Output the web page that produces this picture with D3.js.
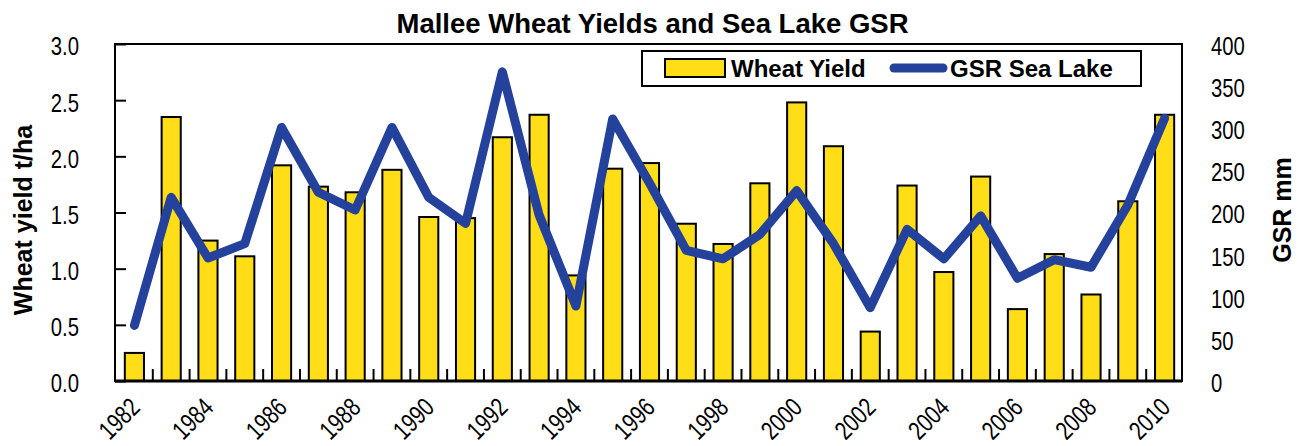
<!DOCTYPE html>
<html>
<head>
<meta charset="utf-8">
<script src="https://cdn.jsdelivr.net/npm/d3@7"></script>
<style>
    body { margin: 0; background: #fff; }
</style>
</head>
<body>
<svg id="chart"></svg>
<script>
const years = [1982, 1983, 1984, 1985, 1986, 1987, 1988, 1989, 1990, 1991, 1992, 1993, 1994, 1995, 1996,
    1997, 1998, 1999, 2000, 2001, 2002, 2003, 2004, 2005, 2006, 2007, 2008, 2009, 2010];
const wheatYield = [0.25, 2.35, 1.25, 1.11, 1.92, 1.73, 1.68, 1.88, 1.46, 1.45, 2.17, 2.37, 0.94, 1.89, 1.94,
    1.40, 1.22, 1.76, 2.48, 2.09, 0.44, 1.74, 0.97, 1.82, 0.64, 1.13, 0.77, 1.60, 2.37];
const gsrSeaLake = [66, 218, 146, 163, 301, 224, 203, 301, 218, 187, 367, 197, 89, 311, 235,
    155, 145, 174, 226, 163, 87, 180, 145, 196, 122, 144, 135, 209, 312];
const yieldTicks = [0, 0.5, 1, 1.5, 2, 2.5, 3];
const gsrTicks = [0, 50, 100, 150, 200, 250, 300, 350, 400];
const yearLabels = years.filter(y => y % 2 === 0);

const width = 1307;
const height = 446;
const plot = { left: 115, right: 1182, top: 44, bottom: 381 };
const yellow = '#FFDD17';
const blue = '#24419B';
const boldFont = "'Liberation Sans', Arial, sans-serif";
const squeeze = 0.78;   // narrow look of the tick labels

const svg = d3.select('#chart')
    .attr('width', width)
    .attr('height', height);

const x = d3.scaleBand()
    .domain(years)
    .range([plot.left + 1, plot.right + 1])
    .paddingInner(0.48)
    .paddingOuter(0.24);

const yLeft = d3.scaleLinear()
    .domain([0, 3])
    .range([plot.bottom, plot.top]);

const yRight = d3.scaleLinear()
    .domain([0, 400])
    .range([plot.bottom, plot.top]);

// frame
svg.append('rect')
    .attr('x', plot.left)
    .attr('y', plot.top)
    .attr('width', plot.right - plot.left)
    .attr('height', plot.bottom - plot.top)
    .attr('fill', 'none')
    .attr('stroke', '#000')
    .attr('stroke-width', 2);

// bars
svg.append('g')
    .selectAll('rect')
    .data(years)
    .enter()
    .append('rect')
    .attr('x', d => x(d))
    .attr('y', (d, i) => yLeft(wheatYield[i]))
    .attr('width', x.bandwidth())
    .attr('height', (d, i) => yLeft(0) - yLeft(wheatYield[i]))
    .attr('fill', yellow)
    .attr('stroke', '#000')
    .attr('stroke-width', 2);

// category ticks between bars
const step = x.step();
const x0 = x.range()[0];
svg.append('g')
    .selectAll('line')
    .data(years.slice(1))
    .enter()
    .append('line')
    .attr('x1', (d, i) => x0 + (i + 1) * step)
    .attr('x2', (d, i) => x0 + (i + 1) * step)
    .attr('y1', plot.bottom)
    .attr('y2', plot.bottom - 12)
    .attr('stroke', '#000')
    .attr('stroke-width', 2);

// bottom axis line
svg.append('line')
    .attr('x1', plot.left)
    .attr('x2', plot.right)
    .attr('y1', plot.bottom)
    .attr('y2', plot.bottom)
    .attr('stroke', '#000')
    .attr('stroke-width', 3);

// GSR line
const line = d3.line()
    .x((d, i) => x(years[i]) + x.bandwidth() / 2)
    .y(d => yRight(d));

svg.append('path')
    .datum(gsrSeaLake)
    .attr('d', line)
    .attr('fill', 'none')
    .attr('stroke', blue)
    .attr('stroke-width', 9)
    .attr('stroke-linejoin', 'round')
    .attr('stroke-linecap', 'round');

// left axis
const yAxisLeft = d3.axisLeft(yLeft)
    .tickValues(yieldTicks)
    .tickFormat(d3.format('.1f'))
    .tickSizeInner(-11)
    .tickSizeOuter(0)
    .tickPadding(36);

const leftGroup = svg.append('g')
    .attr('transform', `translate(${plot.left}, 0)`)
    .call(yAxisLeft);
leftGroup.select('.domain').remove();
leftGroup.selectAll('line').attr('stroke-width', 2);
leftGroup.selectAll('text')
    .attr('x', -36 / squeeze)
    .attr('transform', `scale(${squeeze}, 1)`)
    .style('font-family', boldFont)
    .style('font-size', '26px')
    .attr('fill', '#000')
    .attr('dy', '0.42em');

// right axis
const yAxisRight = d3.axisRight(yRight)
    .tickValues(gsrTicks)
    .tickSize(0)
    .tickPadding(29);

const rightGroup = svg.append('g')
    .attr('transform', `translate(${plot.right}, 0)`)
    .call(yAxisRight);
rightGroup.select('.domain').remove();
rightGroup.selectAll('text')
    .attr('x', 29 / squeeze)
    .attr('transform', `scale(${squeeze}, 1)`)
    .style('font-family', boldFont)
    .style('font-size', '26px')
    .attr('fill', '#000')
    .attr('dy', '0.4em');

// year labels
svg.append('g')
    .selectAll('text')
    .data(yearLabels)
    .enter()
    .append('text')
    .attr('transform', d => `translate(${x(d) + x.bandwidth() / 2 + 7}, 409) rotate(-45) scale(${squeeze}, 1)`)
    .attr('text-anchor', 'end')
    .style('font-family', boldFont)
    .style('font-size', '26px')
    .text(d => d);

// title
svg.append('text')
    .attr('x', (plot.left + plot.right) / 2 + 4)
    .attr('y', 33)
    .attr('text-anchor', 'middle')
    .style('font-family', boldFont)
    .style('font-weight', 'bold')
    .style('font-size', '27.5px')
    .text('Mallee Wheat Yields and Sea Lake GSR');

// axis titles
svg.append('text')
    .attr('transform', 'translate(32, 220) rotate(-90)')
    .attr('text-anchor', 'middle')
    .style('font-family', boldFont)
    .style('font-weight', 'bold')
    .style('font-size', '25px')
    .text('Wheat yield t/ha');

svg.append('text')
    .attr('transform', 'translate(1291, 210) rotate(-90)')
    .attr('text-anchor', 'middle')
    .style('font-family', boldFont)
    .style('font-weight', 'bold')
    .style('font-size', '25px')
    .text('GSR mm');

// legend
const legend = svg.append('g');
legend.append('rect')
    .attr('x', 642)
    .attr('y', 51)
    .attr('width', 499)
    .attr('height', 35)
    .attr('fill', '#fff')
    .attr('stroke', '#000')
    .attr('stroke-width', 2);
legend.append('rect')
    .attr('x', 665)
    .attr('y', 59)
    .attr('width', 60)
    .attr('height', 18)
    .attr('fill', yellow)
    .attr('stroke', '#000')
    .attr('stroke-width', 2);
legend.append('text')
    .attr('x', 731)
    .attr('y', 77)
    .style('font-family', boldFont)
    .style('font-weight', 'bold')
    .style('font-size', '24px')
    .text('Wheat Yield');
legend.append('line')
    .attr('x1', 894)
    .attr('x2', 943)
    .attr('y1', 68)
    .attr('y2', 68)
    .attr('stroke', blue)
    .attr('stroke-width', 9)
    .attr('stroke-linecap', 'round');
legend.append('text')
    .attr('x', 950)
    .attr('y', 77)
    .style('font-family', boldFont)
    .style('font-weight', 'bold')
    .style('font-size', '24px')
    .text('GSR Sea Lake');
</script>
</body>
</html>
